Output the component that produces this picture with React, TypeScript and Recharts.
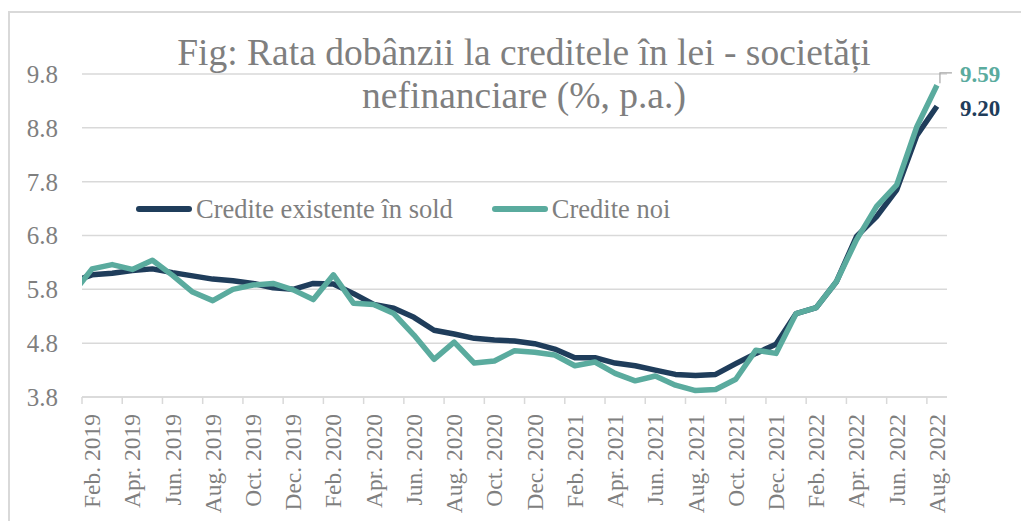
import React from "react";
import { LineChart, Line, XAxis, YAxis, CartesianGrid, Legend, LabelList } from "recharts";

// ---- data ----
const MONTHS = [
  "Jan. 2019", "Feb. 2019", "Mar. 2019", "Apr. 2019", "May 2019", "Jun. 2019", "Jul. 2019", "Aug. 2019", "Sep. 2019", "Oct. 2019", "Nov. 2019", "Dec. 2019",
  "Jan. 2020", "Feb. 2020", "Mar. 2020", "Apr. 2020", "May 2020", "Jun. 2020", "Jul. 2020", "Aug. 2020", "Sep. 2020", "Oct. 2020", "Nov. 2020", "Dec. 2020",
  "Jan. 2021", "Feb. 2021", "Mar. 2021", "Apr. 2021", "May 2021", "Jun. 2021", "Jul. 2021", "Aug. 2021", "Sep. 2021", "Oct. 2021", "Nov. 2021", "Dec. 2021",
  "Jan. 2022", "Feb. 2022", "Mar. 2022", "Apr. 2022", "May 2022", "Jun. 2022", "Jul. 2022", "Aug. 2022",
];

const EXISTING = [
  5.94, 6.07, 6.10, 6.15, 6.18, 6.11, 6.05, 5.99, 5.96, 5.91, 5.83, 5.80,
  5.91, 5.90, 5.72, 5.52, 5.45, 5.28, 5.04, 4.97, 4.89, 4.86, 4.84, 4.79,
  4.69, 4.53, 4.53, 4.43, 4.38, 4.30, 4.22, 4.20, 4.22, 4.42, 4.61, 4.78,
  5.35, 5.46, 5.94, 6.78, 7.15, 7.65, 8.66, 9.20,
];

const NEW = [
  5.70, 6.18, 6.26, 6.17, 6.34, 6.06, 5.75, 5.59, 5.80, 5.88, 5.91, 5.79,
  5.61, 6.07, 5.54, 5.52, 5.35, 4.95, 4.50, 4.82, 4.43, 4.47, 4.66, 4.63,
  4.58, 4.38, 4.45, 4.24, 4.10, 4.19, 4.02, 3.92, 3.94, 4.13, 4.67, 4.61,
  5.35, 5.46, 5.94, 6.72, 7.34, 7.74, 8.82, 9.59,
];

const Y_TICKS = [3.8, 4.8, 5.8, 6.8, 7.8, 8.8, 9.8];
const SERIES_NAMES = ["Credite existente în sold", "Credite noi"];
const TITLE_LINES = ["Fig: Rata dobânzii la creditele în lei - societăți", "nefinanciare (%, p.a.)"];

const data = MONTHS.map((m, i) => ({ idx: i, month: m, existing: EXISTING[i], fresh: NEW[i] }));
// tick marks on category boundaries, every second month, starting at Feb 2019's left edge
const X_TICKS = MONTHS.map((_, i) => i).filter((i) => i % 2 === 1).map((i) => i - 0.5);

// ---- layout / style ----
const FONT = '"Liberation Serif", "Times New Roman", serif';
const GRAY = "#7f7f7f";
const NAVY = "#1f3d5b";
const TEAL = "#5aab9e";
const CHART_W = 1021;
const CHART_H = 513;
const MARGIN = { top: 66, right: 82, bottom: 14, left: 0 };
const Y_AXIS_W = 74;
const X_AXIS_H = 110;
const PLOT_W = CHART_W - MARGIN.left - MARGIN.right - Y_AXIS_W;
const HALF_BAND = PLOT_W / (MONTHS.length - 1) / 2;
const LAST = MONTHS.length - 1;

const XTick = (props: any) => {
  const { x, y, payload } = props;
  const label = MONTHS[Math.round(payload.value + 0.5)];
  return (
    <text
      x={0}
      y={0}
      transform={`translate(${x + HALF_BAND},${y + 8}) rotate(-90)`}
      textAnchor="end"
      dominantBaseline="central"
      fill={GRAY}
      fontFamily={FONT}
      fontSize={23.5}
    >
      {label}
    </text>
  );
};

const TealEndLabel = (props: any) => {
  const { x, y, value, index } = props;
  if (index !== LAST) return null;
  return (
    <g>
      <polyline
        points={`${x + 3},${y - 2} ${x + 3},${y - 12.5} ${x + 15},${y - 12.5}`}
        fill="none"
        stroke="#a6a6a6"
        strokeWidth={1.2}
      />
      <text x={x + 23} y={y - 11} dominantBaseline="central" fill={TEAL} fontFamily={FONT} fontWeight="bold" fontSize={23}>
        {Number(value).toFixed(2)}
      </text>
    </g>
  );
};

const NavyEndLabel = (props: any) => {
  const { x, y, value, index } = props;
  if (index !== LAST) return null;
  return (
    <text x={x + 23} y={y + 2} dominantBaseline="central" fill={NAVY} fontFamily={FONT} fontWeight="bold" fontSize={23}>
      {Number(value).toFixed(2)}
    </text>
  );
};

const renderLegend = (props: any) => {
  const { payload } = props;
  return (
    <div style={{ display: "flex", alignItems: "center", fontFamily: FONT, fontSize: 26.5, lineHeight: "30px", color: GRAY, whiteSpace: "nowrap" }}>
      {(payload || []).map((p: any, i: number) => (
        <div key={i} style={{ display: "flex", alignItems: "center", marginRight: 39 }}>
          <span style={{ display: "inline-block", width: 56, height: 6, borderRadius: 3, background: p.color, marginRight: 4 }} />
          <span>{p.value}</span>
        </div>
      ))}
    </div>
  );
};

export default function App() {
  return (
    <div style={{ position: "relative", width: CHART_W, height: CHART_H, background: "#fff" }}>
      <style>{"html,body{overflow:hidden;background:#fff}"}</style>
      <div style={{ position: "absolute", left: 0, top: 3, width: CHART_W, height: 1.5, background: "#d9d9d9" }} />
      <div style={{ position: "absolute", left: 0, top: 3, width: 1.5, height: CHART_H, background: "#d9d9d9" }} />
      <div
        style={{
          position: "absolute",
          left: 0,
          top: 23,
          width: 1032,
          textAlign: "center",
          fontFamily: FONT,
          fontSize: 37.5,
          lineHeight: "43px",
          color: GRAY,
          zIndex: 2,
        }}
      >
        {TITLE_LINES.map((t, i) => (
          <div key={i}>{t}</div>
        ))}
      </div>
      <LineChart width={CHART_W} height={CHART_H} data={data} margin={MARGIN}>
        <CartesianGrid horizontal vertical={false} stroke="#d9d9d9" strokeWidth={1.5} />
        <XAxis
          type="number"
          dataKey="idx"
          domain={[0.5, LAST + 0.5]}
          allowDataOverflow
          ticks={X_TICKS}
          interval={0}
          height={X_AXIS_H}
          tickSize={7}
          tickMargin={2}
          tickLine={{ stroke: "#d9d9d9", strokeWidth: 1.5 }}
          axisLine={{ stroke: "#d9d9d9", strokeWidth: 1.5 }}
          tick={<XTick />}
        />
        <YAxis
          type="number"
          domain={[3.8, 9.8]}
          ticks={Y_TICKS}
          interval={0}
          width={Y_AXIS_W}
          axisLine={false}
          tickLine={false}
          tickSize={0}
          tickMargin={24}
          tickFormatter={(v: number) => v.toFixed(1)}
          tick={{ fill: GRAY, fontFamily: FONT, fontSize: 25 }}
        />
        <Legend
          layout="horizontal"
          verticalAlign="middle"
          align="center"
          content={renderLegend}
          wrapperStyle={{ left: 128, top: 186, width: "auto" }}
        />
        <Line
          type="linear"
          dataKey="existing"
          name={SERIES_NAMES[0]}
          stroke={NAVY}
          strokeWidth={5.5}
          strokeLinejoin="round"
          dot={false}
          activeDot={false}
          isAnimationActive={false}
        >
          <LabelList dataKey="existing" content={<NavyEndLabel />} />
        </Line>
        <Line
          type="linear"
          dataKey="fresh"
          name={SERIES_NAMES[1]}
          stroke={TEAL}
          strokeWidth={5.5}
          strokeLinejoin="round"
          dot={false}
          activeDot={false}
          isAnimationActive={false}
        >
          <LabelList dataKey="fresh" content={<TealEndLabel />} />
        </Line>
      </LineChart>
    </div>
  );
}
